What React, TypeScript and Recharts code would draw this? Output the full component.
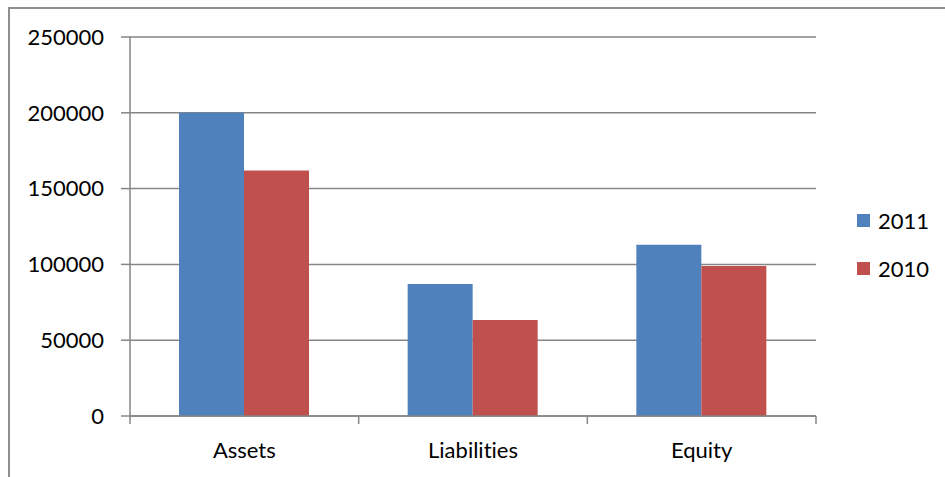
import React from "react";
import { BarChart, Bar, XAxis, YAxis, CartesianGrid, Legend } from "recharts";

const categories = ["Assets", "Liabilities", "Equity"];
const values2011 = [200000, 87000, 113000];
const values2010 = [162000, 63300, 99000];
const yTicks = [0, 50000, 100000, 150000, 200000, 250000];
const seriesKeys = ["y2011", "y2010"];
const seriesNames = ["2011", "2010"];
const seriesColors = ["#4F81BD", "#C0504D"];

const data = categories.map((name, i) => ({
  name,
  y2011: values2011[i],
  y2010: values2010[i],
}));

const AXIS = "#868686";
const FONT = "Lato, 'Open Sans', sans-serif";

// category labels with tick marks on the band edges, like Excel
const CategoryTick = (props: any) => {
  const { x, y, payload, index, visibleTicksCount, width } = props;
  const half =
    width && visibleTicksCount ? width / visibleTicksCount / 2 : payload.offset;
  return (
    <g>
      <line x1={x - half} x2={x - half} y1={y} y2={y + 8} stroke={AXIS} strokeWidth={1.5} />
      {index === visibleTicksCount - 1 && (
        <line x1={x + half} x2={x + half} y1={y} y2={y + 8} stroke={AXIS} strokeWidth={1.5} />
      )}
      <text
        x={x}
        y={y + 42}
        textAnchor="middle"
        fill="#000"
        fontSize={22}
        fontFamily={FONT}
        style={{ fontVariantLigatures: "none" }}
      >
        {payload.value}
      </text>
    </g>
  );
};

const LegendBox = () => (
  <div style={{ fontFamily: FONT, fontSize: 22, color: "#000" }}>
    {seriesNames.map((name, i) => (
      <div key={name} style={{ display: "flex", alignItems: "center", height: 48 }}>
        <span
          style={{
            display: "inline-block",
            width: 13,
            height: 13,
            background: seriesColors[i],
            marginRight: 8,
          }}
        />
        <span>{name}</span>
      </div>
    ))}
  </div>
);

export default function App() {
  return (
    <div
      style={{
        position: "absolute",
        left: 0,
        top: 0,
        width: 945,
        height: 477,
        overflow: "hidden",
        background: "#fff",
        fontFamily: FONT,
        fontVariantLigatures: "none",
      }}
    >
      <div
        style={{
          position: "absolute",
          left: 8,
          top: 7,
          width: 1200,
          height: 1200,
          borderTop: "2px solid #8e8e8e",
          borderLeft: "2px solid #8e8e8e",
        }}
      />
      <BarChart
        width={945}
        height={477}
        data={data}
        margin={{ top: 37, right: 129, left: 0, bottom: 0 }}
        barCategoryGap={49}
        barGap={0}
      >
        <CartesianGrid vertical={false} stroke={AXIS} strokeWidth={1.5} />
        <XAxis
          dataKey="name"
          height={61}
          interval={0}
          tickSize={0}
          tickMargin={0}
          tickLine={false}
          axisLine={{ stroke: AXIS, strokeWidth: 1.5 }}
          tick={<CategoryTick />}
        />
        <YAxis
          width={130}
          domain={[0, 250000]}
          ticks={yTicks}
          interval={0}
          tickSize={9}
          tickMargin={17}
          axisLine={{ stroke: AXIS, strokeWidth: 1.5 }}
          tickLine={{ stroke: AXIS, strokeWidth: 1.5 }}
          tick={{ fill: "#000", fontSize: 22, fontFamily: FONT }}
        />
        <Legend
          layout="horizontal"
          align="center"
          verticalAlign="middle"
          content={<LegendBox />}
          wrapperStyle={{ left: 857, top: 196, width: 90 }}
        />
        {seriesKeys.map((key, i) => (
          <Bar
            key={key}
            dataKey={key}
            name={seriesNames[i]}
            fill={seriesColors[i]}
            isAnimationActive={false}
          />
        ))}
      </BarChart>
    </div>
  );
}
